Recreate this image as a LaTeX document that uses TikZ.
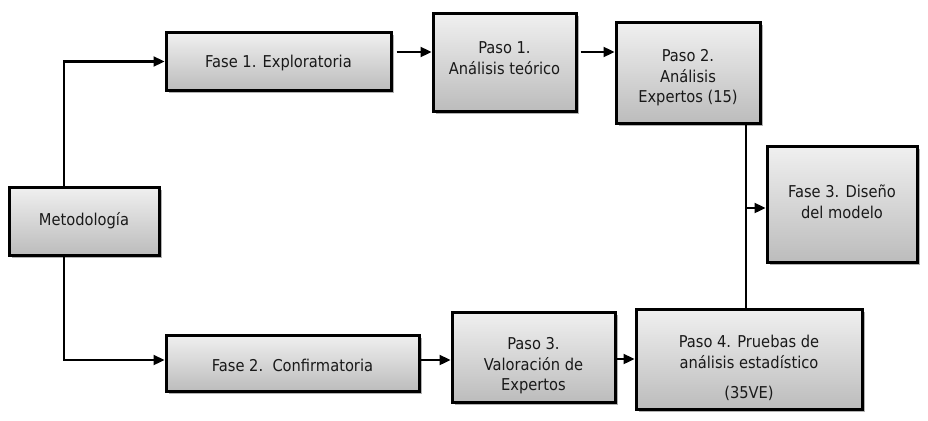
\documentclass[tikz,border=0pt]{standalone}
\usepackage{fontspec}
\setmainfont{DejaVu Sans Condensed}
\usetikzlibrary{arrows.meta,shadows}
\definecolor{boxtop}{RGB}{240,240,240}
\definecolor{boxbot}{RGB}{188,188,188}
\begin{document}
\begin{tikzpicture}[x=1pt,y=-1pt,
  box/.style={draw=black, line width=3pt, top color=boxtop, bottom color=boxbot,
    inner sep=0pt, drop shadow={shadow xshift=2.5pt, shadow yshift=-2.5pt, fill=black, opacity=0.3}},
  txt/.style={align=center, inner sep=0pt, font=\fontsize{16.3}{20.5}\selectfont, text=black!90},
  conn/.style={line width=2.3pt},
  arr/.style={conn, -{Triangle[length=11pt,width=10pt]}}
]
\useasboundingbox (0,0) rectangle (928,420);
% boxes
\node[box, minimum width=150pt, minimum height=68pt] (met) at (84,221) {};
\node[box, minimum width=225pt, minimum height=57pt] (f1) at (278.5,61.5) {};
\node[box, minimum width=143pt, minimum height=97pt] (p1) at (504.5,62.5) {};
\node[box, minimum width=144pt, minimum height=100pt] (p2) at (688,73) {};
\node[box, minimum width=150pt, minimum height=116pt] (f3) at (842,204) {};
\node[box, minimum width=253pt, minimum height=56pt] (f2) at (292.5,363) {};
\node[box, minimum width=163pt, minimum height=90pt] (p3) at (533.5,357) {};
\node[box, minimum width=226pt, minimum height=100pt] (p4) at (749,359) {};
% texts
\node[txt] (tmet) at (84,221) {Metodología};
\node[txt] (tf1) at (278.5,63) {Fase 1. Exploratoria};
\node[txt] (tp1) at (504.5,58) {Paso 1.\\Análisis teórico};
\node[txt] (tp2) at (688,78) {Paso 2.\\Análisis\\Expertos (15)};
\node[txt] (tf3) at (842,202) {Fase 3. Diseño\\del modelo};
\node[txt] (tf2) at (292.5,365) {Fase 2.\ \ Confirmatoria};
\node[txt] (tp3) at (533.5,366) {Paso 3.\\Valoración de\\Expertos};
\node[txt] (tp4) at (749,368) {Paso 4. Pruebas de\\análisis estadístico\\[10pt](35VE)};
% connectors
\draw[arr] ([xshift=-20pt]met.north) |- (f1.west);
\draw[arr] ([xshift=-20pt]met.south) |- ([yshift=3pt]f2.west);
\coordinate (a1) at ([shift={(4pt,9.5pt)}]f1.east);
\draw[arr] (a1) -- (a1 -| p1.west);
\coordinate (a2) at ([shift={(3pt,10.5pt)}]p1.east);
\draw[arr] (a2) -- (a2 -| p2.west);
\coordinate (l1) at ([xshift=58pt]p2.south);
\draw[conn] (l1) -- (l1 |- p4.north);
\coordinate (a3) at (l1 |- f3.west);
\draw[arr] ([yshift=-4pt]a3) -- ([yshift=-4pt]f3.west);
\coordinate (a4) at ([yshift=3pt]f2.east);
\draw[arr] (a4) -- (a4 -| p3.west);
\coordinate (a5) at ([yshift=-2pt]p3.east);
\draw[arr] (a5) -- (a5 -| p4.west);
\end{tikzpicture}
\end{document}
